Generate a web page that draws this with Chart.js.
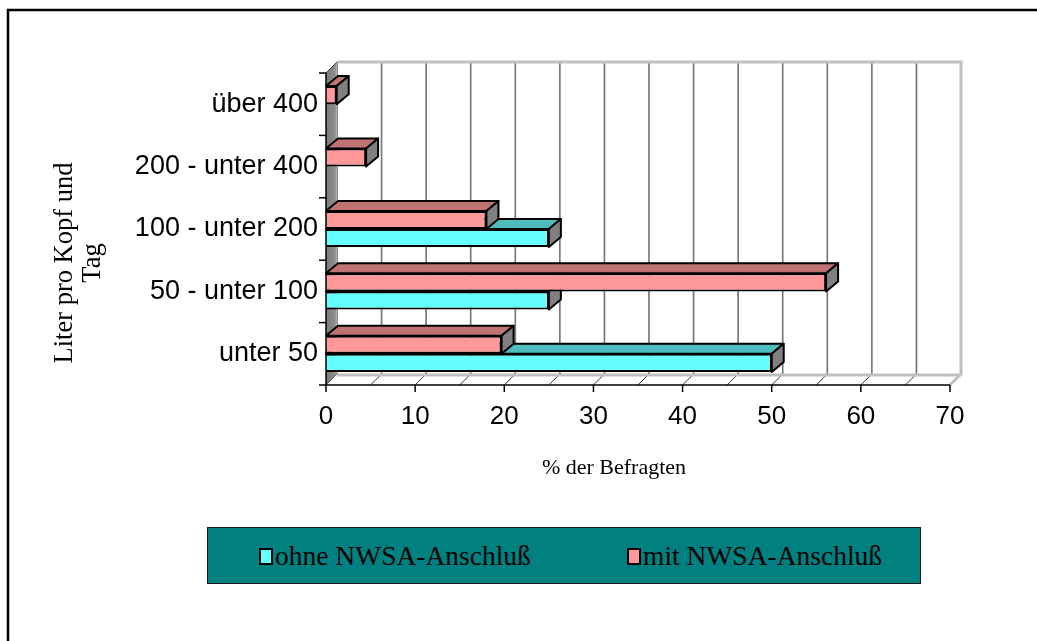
<!DOCTYPE html>
<html>
<head>
<meta charset="utf-8">
<script src="https://cdn.jsdelivr.net/npm/chart.js@4"></script>
<style>
    body { margin: 0; background: #fff; }
    #wrap { position: relative; width: 1037px; height: 641px; }
    #legende {
        position: absolute; left: 207px; top: 527px; width: 714px; height: 57px;
        background: #008080; border: 1px solid #1a1a1a; box-sizing: border-box;
        font-family: 'Liberation Serif', 'Times New Roman', serif; font-size: 27.5px; color: #000;
    }
    .item { position: absolute; top: 0; height: 55px; line-height: 55px; white-space: nowrap; }
    .carre {
        display: inline-block; width: 10px; height: 13px; border: 2px solid #000;
        vertical-align: middle; margin-right: 2px; position: relative; top: -2px;
    }
</style>
</head>
<body>
<div id="wrap">
    <canvas id="graphique" width="1037" height="641"></canvas>
    <div id="legende"></div>
</div>
<script>
// Données (% der Befragten)
const categories = ['über 400', '200 - unter 400', '100 - unter 200', '50 - unter 100', 'unter 50'];
const ohneAnschluss = [0, 0, 25, 25, 50];
const mitAnschluss = [1.2, 4.5, 18.0, 56.1, 19.7];
const seriesNoms = ['ohne NWSA-Anschluß', 'mit NWSA-Anschluß'];
const xTickLabels = [0, 10, 20, 30, 40, 50, 60, 70];
const yTitre = ['Liter pro Kopf und', 'Tag'];
const xTitre = '% der Befragten';

const couleursFace = ['#66FFFF', '#FF9999'];
const couleursDessus = ['#4DBDBD', '#BF7373'];
const couleurCote = '#808080';

// profondeur 3D
const DX = 11, DY = -11;     // murs
const BDX = 12, BDY = -10;   // barres

// légende en HTML
const legende = document.getElementById('legende');
const posLegende = [51, 419];
seriesNoms.forEach((nom, i) => {
    let item = document.createElement('div');
    item.className = 'item';
    item.style.left = posLegende[i] + 'px';
    item.innerHTML = '<span class="carre" style="background:' + couleursFace[i] + '"></span>' + nom;
    legende.appendChild(item);
});

function faces(el) {
    return { haut: el.y - el.height / 2, bas: el.y + el.height / 2, g: el.base, d: el.x };
}

function dessinerFaces(chart, dsIndex, couleurDessus) {
    const ctx = chart.ctx;
    const meta = chart.getDatasetMeta(dsIndex);
    ctx.save();
    ctx.lineWidth = 2;
    ctx.strokeStyle = '#000';
    ctx.lineJoin = 'round';
    meta.data.forEach((el, i) => {
        if (!chart.data.datasets[dsIndex].data[i]) return;
        let f = faces(el);
        // dessus
        ctx.beginPath();
        ctx.moveTo(f.g, f.haut);
        ctx.lineTo(f.d, f.haut);
        ctx.lineTo(f.d + BDX, f.haut + BDY);
        ctx.lineTo(f.g + BDX, f.haut + BDY);
        ctx.closePath();
        ctx.fillStyle = couleurDessus;
        ctx.fill();
        ctx.stroke();
        // côté
        ctx.beginPath();
        ctx.moveTo(f.d, f.haut);
        ctx.lineTo(f.d + BDX, f.haut + BDY);
        ctx.lineTo(f.d + BDX, f.bas + BDY);
        ctx.lineTo(f.d, f.bas);
        ctx.closePath();
        ctx.fillStyle = couleurCote;
        ctx.fill();
        ctx.stroke();
    });
    ctx.restore();
}

const effet3D = {
    id: 'effet3D',
    beforeDraw(chart) {
        const ctx = chart.ctx;
        ctx.save();
        // cadre extérieur
        ctx.strokeStyle = '#000';
        ctx.lineWidth = 2.5;
        ctx.beginPath();
        ctx.moveTo(8, 645);
        ctx.lineTo(8, 10);
        ctx.lineTo(1040, 10);
        ctx.stroke();
        ctx.restore();
    },
    beforeDatasetsDraw(chart) {
        const { ctx, chartArea: a, scales: { x } } = chart;
        ctx.save();
        // lignes de la grille sur le mur du fond
        x.ticks.forEach(t => {
            let px = x.getPixelForValue(t.value) + DX;
            ctx.beginPath();
            ctx.strokeStyle = '#7a7a7a';
            ctx.lineWidth = 1.7;
            ctx.moveTo(px, a.top + DY);
            ctx.lineTo(px, a.bottom + DY);
            ctx.stroke();
            // lignes du sol
            ctx.beginPath();
            ctx.strokeStyle = '#333';
            ctx.lineWidth = 1;
            ctx.moveTo(px - DX, a.bottom);
            ctx.lineTo(px, a.bottom + DY);
            ctx.stroke();
        });
        // bords clairs du mur et du sol
        ctx.strokeStyle = '#C0C0C0';
        ctx.lineWidth = 3;
        ctx.beginPath();
        ctx.moveTo(a.left + DX, a.top + DY);
        ctx.lineTo(a.right + DX, a.top + DY);
        ctx.lineTo(a.right + DX, a.bottom + DY);
        ctx.lineTo(a.right, a.bottom);
        ctx.stroke();
        ctx.beginPath();
        ctx.moveTo(a.left + DX, a.bottom + DY + 1);
        ctx.lineTo(a.right + DX, a.bottom + DY + 1);
        ctx.stroke();
        // mur gauche
        let grad = ctx.createLinearGradient(a.left, 0, a.left + DX, 0);
        grad.addColorStop(0, '#7a7a7a');
        grad.addColorStop(0.8, '#8c8c8c');
        grad.addColorStop(1, '#b5b5b5');
        ctx.fillStyle = grad;
        ctx.beginPath();
        ctx.moveTo(a.left, a.top);
        ctx.lineTo(a.left + DX, a.top + DY);
        ctx.lineTo(a.left + DX, a.bottom + DY);
        ctx.lineTo(a.left, a.bottom);
        ctx.closePath();
        ctx.fill();
        ctx.strokeStyle = '#333';
        ctx.lineWidth = 1;
        ctx.beginPath();
        ctx.moveTo(a.left, a.top);
        ctx.lineTo(a.left + DX, a.top + DY);
        ctx.stroke();
        ctx.restore();
        // faces de la série de devant (ohne)
        dessinerFaces(chart, 1, couleursDessus[0]);
    },
    afterDatasetsDraw(chart) {
        const { ctx, chartArea: a, scales: { x } } = chart;
        dessinerFaces(chart, 0, couleursDessus[1]);
        ctx.save();
        ctx.strokeStyle = '#000';
        ctx.lineWidth = 1.5;
        // axe X avant
        ctx.beginPath();
        ctx.moveTo(a.left, a.bottom);
        ctx.lineTo(a.right, a.bottom);
        ctx.stroke();
        xTickLabels.forEach(v => {
            let px = x.getPixelForValue(v);
            ctx.beginPath();
            ctx.moveTo(px, a.bottom);
            ctx.lineTo(px, a.bottom + 7);
            ctx.stroke();
        });
        // axe Y avant
        ctx.beginPath();
        ctx.moveTo(a.left, a.top);
        ctx.lineTo(a.left, a.bottom);
        ctx.stroke();
        let n = categories.length;
        for (let i = 0; i <= n; i++) {
            let py = a.top + i * (a.bottom - a.top) / n;
            ctx.beginPath();
            ctx.moveTo(a.left - 7, py);
            ctx.lineTo(a.left, py);
            ctx.stroke();
        }
        ctx.restore();
    },
    afterDraw(chart) {
        const ctx = chart.ctx;
        ctx.save();
        ctx.fillStyle = '#000';
        ctx.textAlign = 'center';
        ctx.textBaseline = 'middle';
        // titre axe X
        ctx.font = "22px 'Liberation Serif', 'Times New Roman', serif";
        ctx.fillText(xTitre, 614, 468);
        // titre axe Y
        ctx.font = "26.5px 'Liberation Serif', 'Times New Roman', serif";
        ctx.translate(65, 263);
        ctx.rotate(-Math.PI / 2);
        ctx.fillText(yTitre[0], 0, 0);
        ctx.fillText(yTitre[1], 0, 28);
        ctx.restore();
    }
};

new Chart(document.getElementById('graphique'), {
    type: 'bar',
    data: {
        labels: categories,
        datasets: [{
            label: seriesNoms[1],
            data: mitAnschluss,
            backgroundColor: couleursFace[1],
            borderColor: '#000',
            borderWidth: 2,
            borderSkipped: 'start'
        }, {
            label: seriesNoms[0],
            data: ohneAnschluss,
            backgroundColor: couleursFace[0],
            borderColor: '#000',
            borderWidth: 2,
            borderSkipped: 'start'
        }]
    },
    options: {
        indexAxis: 'y',
        responsive: false,
        animation: false,
        events: [],
        categoryPercentage: 0.58,
        barPercentage: 1.0,
        layout: { padding: { left: 0, top: 73, right: 87, bottom: 206 } },
        plugins: {
            legend: { display: false },
            tooltip: { enabled: false }
        },
        scales: {
            x: {
                min: 0,
                max: 70,
                grid: { display: false, drawTicks: false },
                border: { display: false },
                ticks: {
                    stepSize: 5,
                    padding: 16,
                    color: '#000',
                    font: { family: "'Liberation Sans', Arial, sans-serif", size: 26 },
                    callback: (v) => xTickLabels.includes(v) ? v : ''
                },
                afterFit: (s) => { s.height = 50; }
            },
            y: {
                grid: { display: false, drawTicks: false },
                border: { display: false },
                ticks: {
                    padding: 8,
                    color: '#000',
                    font: { family: "'Liberation Sans', Arial, sans-serif", size: 27 }
                },
                afterFit: (s) => { s.width = 326; }
            }
        }
    },
    plugins: [effet3D]
});
</script>
</body>
</html>
